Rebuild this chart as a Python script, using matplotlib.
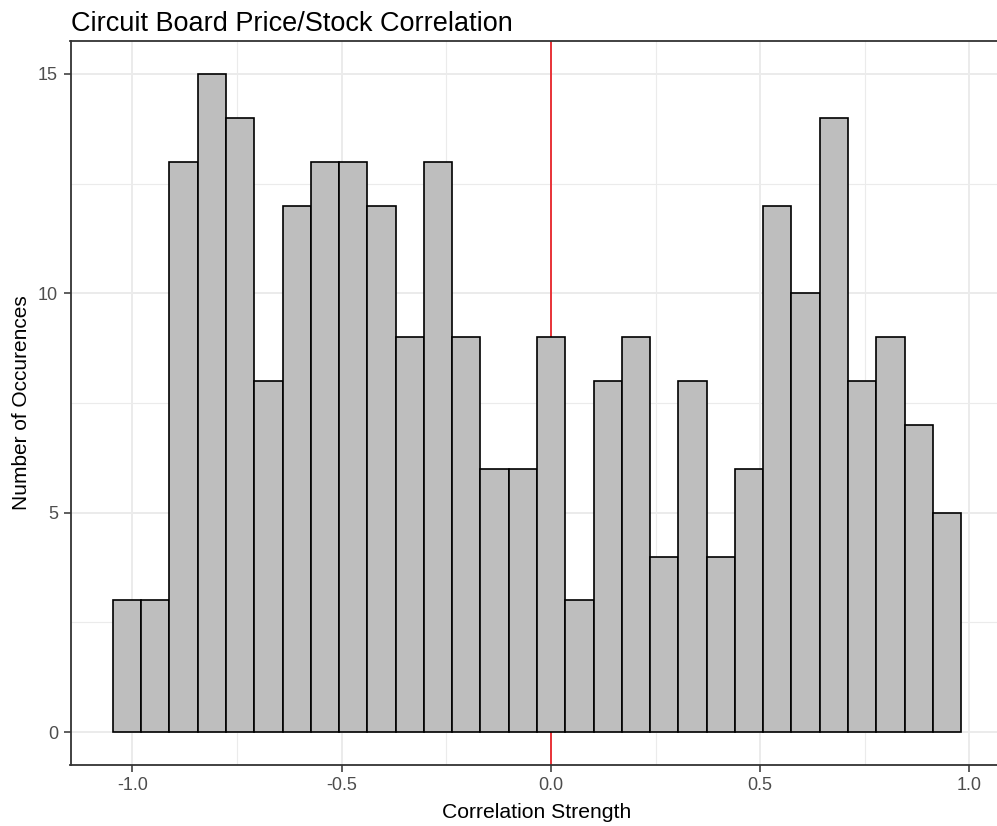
import numpy as np
import matplotlib
matplotlib.use("Agg")
import matplotlib.pyplot as plt
from matplotlib.ticker import MultipleLocator

plt.rcParams['font.family'] = ['Liberation Sans', 'DejaVu Sans']

title = "Circuit Board Price/Stock Correlation"
xlabel = "Correlation Strength"
ylabel = "Number of Occurences"

counts = [3, 3, 13, 15, 14, 8, 12, 13, 13, 12, 9, 13, 9, 6, 6,
          9, 3, 8, 9, 4, 8, 4, 6, 12, 10, 14, 8, 9, 7, 5]
range_min = -1.0464
range_max = 0.980
bin_edges = np.linspace(range_min, range_max, len(counts) + 1)
vline_x = 0.0
xticks = [-1.0, -0.5, 0.0, 0.5, 1.0]
xtick_labels = ["-1.0", "-0.5", "0.0", "0.5", "1.0"]
yticks = [0, 5, 10, 15]

W, H = 997, 826
fig = plt.figure(figsize=(W / 100, H / 100), dpi=100)
left, right, top, bottom = 70.5, 1003.5, 41.0, 765.0
ax = fig.add_axes([left / W, (H - bottom) / H, (right - left) / W, (bottom - top) / H])

xr = range_max - range_min
ax.set_xlim(range_min - 0.05 * xr, range_max + 0.05 * xr)
ymax = max(counts)
ax.set_ylim(-0.05 * ymax, ymax * 1.05)

ax.set_xticks(xticks)
ax.set_xticklabels(xtick_labels)
ax.set_yticks(yticks)
ax.xaxis.set_minor_locator(MultipleLocator(0.25))
ax.yaxis.set_minor_locator(MultipleLocator(2.5))

ax.set_axisbelow(True)
ax.grid(which='major', color='#EBEBEB', linewidth=1.4, zorder=0)
ax.grid(which='minor', color='#EBEBEB', linewidth=0.8, zorder=0)

ax.axvline(vline_x, color='#E8141A', linewidth=1.2, zorder=1)
ax.bar(bin_edges[:-1], counts, width=np.diff(bin_edges), align='edge',
       color='#BEBEBE', edgecolor='black', linewidth=1.2, zorder=2)

for s in ax.spines.values():
    s.set_color('#333333')
    s.set_linewidth(1.3)

ax.tick_params(axis='both', which='major', length=5, width=1.1, color='#333333',
               labelcolor='#4D4D4D', labelsize=13, pad=4)
ax.tick_params(axis='both', which='minor', length=0)

ax.set_xlabel(xlabel, fontsize=15.2, color='black', labelpad=6)
ax.set_ylabel(ylabel, fontsize=15, color='black', labelpad=5)
ax.set_title(title, fontsize=19.5, loc='left', color='black', pad=7)

fig.savefig("out.png", dpi=100)
